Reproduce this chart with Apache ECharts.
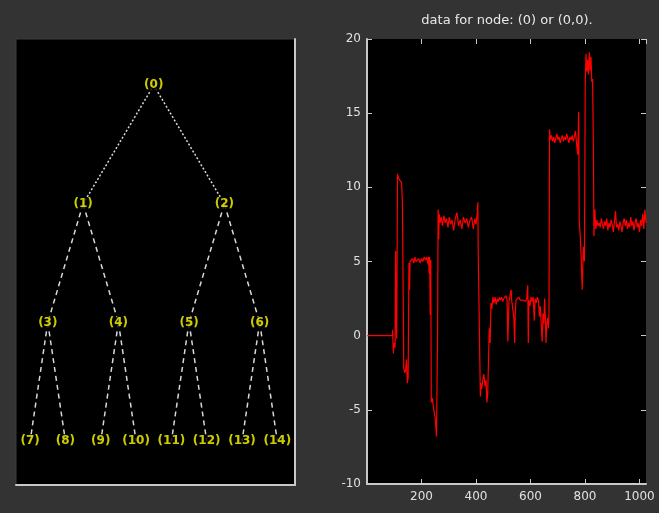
<!DOCTYPE html>
<html>
<head>
<meta charset="utf-8">
<script src="https://cdn.jsdelivr.net/npm/echarts@6/dist/echarts.min.js"></script>
<style>
html,body{margin:0;padding:0;background:#333333;}
#c{width:659px;height:513px;}
</style>
</head>
<body>
<div id="c"></div>
<script>
// ---- Tree (wavelet packet) ----
const nodeLabels = ['(0)','(1)','(2)','(3)','(4)','(5)','(6)','(7)','(8)','(9)','(10)','(11)','(12)','(13)','(14)'];
const nodeX = [4.5, 2.5, 6.5, 1.5, 3.5, 5.5, 7.5, 1, 2, 3, 4, 5, 6, 7, 8];
const nodeDepth = [0, 1, 1, 2, 2, 2, 2, 3, 3, 3, 3, 3, 3, 3, 3];
const nodeParent = [-1, 0, 0, 1, 1, 2, 2, 3, 3, 4, 4, 5, 5, 6, 6];

// ---- Signal: data for node (0) ----
const sigX = [1,93,94,95,97,99,103,105,107,109,112,116,119,123,127,130,133,135,139,142,145,148,151,154,156,158,162,167,172,176,180,185,190,195,200,205,210,215,220,224,226,228,230,232,234,236,240,245,250,255,259,261,263,265,268,272,277,282,287,292,297,302,307,312,318,324,330,336,342,348,354,360,366,372,378,384,390,396,400,404,407,408,414,416,418,421,425,429,433,437,440,443,446,449,452,455,458,462,466,470,474,478,482,486,490,494,498,502,506,510,514,517,519,521,525,529,531,535,539,542,544,547,552,557,562,567,572,577,582,586,590,592,594,598,602,606,610,614,617,621,625,629,633,636,640,643,646,649,652,655,657,660,663,666,668,670,673,677,681,685,689,693,697,701,705,709,713,717,721,725,729,733,737,741,745,749,753,757,761,765,769,773,775,777,779,783,786,790,794,798,801,804,807,810,813,816,819,822,825,828,831,833,836,840,844,848,852,856,860,864,868,872,876,880,884,888,892,896,900,904,908,912,916,920,924,928,932,936,940,944,948,952,956,960,964,968,972,976,980,984,988,992,996,1000,1004,1008,1012,1016,1020,1024];
const sigY = [0,0,0.4,-0.3,-1.2,-0.5,-0.8,5.7,1.0,-0.2,10.9,10.6,10.5,10.6,10.3,9.0,9.1,-2.2,-2.5,-2.3,-1.6,-3.2,-2.8,4.9,3.1,5.0,5.0,5.2,4.9,5.3,5.0,5.1,5.2,4.9,5.2,5.0,5.3,5.1,5.3,4.8,5.3,4.2,5.3,1.4,5.1,-4.5,-4.2,-5.0,-5.5,-6.8,0.0,8.5,6.5,8.2,7.6,8.0,7.4,8.1,7.6,7.9,7.3,8.0,7.5,7.8,7.1,7.9,8.3,7.4,7.8,7.2,8.0,7.6,7.9,7.3,7.8,8.0,7.2,7.9,7.5,8.1,9.0,6.0,-1.5,-4.1,-3.2,-3.6,-3.0,-2.6,-3.4,-3.0,-4.5,-3.9,-1.6,0.5,-0.5,2.2,1.8,2.6,2.2,2.6,2.1,2.5,2.3,2.6,2.4,2.6,2.3,2.5,2.4,2.7,2.4,-0.4,1.0,2.3,2.4,3.1,2.4,2.5,1.2,-0.5,1.5,2.4,2.4,2.6,2.4,2.5,2.4,2.5,2.3,2.5,3.4,-0.5,2.4,2.0,2.6,2.3,2.6,1.0,2.5,2.2,2.6,2.4,1.3,2.0,0.6,-0.4,1.5,0.8,2.5,1.0,-0.5,0.8,1.2,0.5,1.5,13.9,13.2,13.5,13.1,13.4,13.0,13.3,13.6,13.2,13.4,13.0,13.3,13.5,13.1,13.4,13.2,13.6,13.3,13.0,13.4,13.2,13.5,13.1,13.4,13.8,13.0,12.2,13.5,15.1,7.8,6.6,5.3,3.1,6.0,5.0,17.1,19.0,17.8,18.6,17.6,19.1,17.9,18.8,17.1,17.3,12.5,6.7,8.5,7.2,7.8,7.4,7.6,7.3,7.9,7.5,7.2,7.7,7.4,7.9,7.1,7.6,7.3,7.8,7.5,7.0,7.6,8.4,7.3,7.5,7.1,7.7,7.4,7.0,7.6,7.9,7.4,7.8,7.2,7.6,7.3,8.0,7.4,7.7,7.1,7.6,7.9,7.3,7.6,7.0,7.8,7.4,8.2,7.2,8.5,7.6];

const xTicks = [200, 400, 600, 800, 1000];
const yTicks = [-10, -5, 0, 5, 10, 15, 20];
const titleText = 'data for node: (0) or (0,0).';

const chart = echarts.init(document.getElementById('c'), null, {renderer: 'canvas'});

const nodeData = nodeLabels.map((lab, i) => ({value: [nodeX[i], -nodeDepth[i]], name: lab}));
const edges = [];
for (let i = 0; i < nodeLabels.length; i++) {
  const p = nodeParent[i];
  if (p < 0) continue;
  edges.push({
    coords: [[nodeX[p], -nodeDepth[p]], [nodeX[i], -nodeDepth[i]]],
    lineStyle: {type: nodeDepth[p] === 0 ? [2, 2] : [5, 4]}
  });
}
const sigData = sigX.map((x, i) => [x, sigY[i]]);

const axisGray = '#c8c8c8';
const labelFont = {color: '#e0e0e0', fontSize: 12, fontFamily: 'DejaVu Sans, sans-serif'};

chart.setOption({
  backgroundColor: '#333333',
  animation: false,
  title: {
    text: titleText,
    left: 502, top: 9, textAlign: 'center',
    textStyle: {color: '#e8e8e8', fontSize: 13, fontWeight: 'normal', fontFamily: 'DejaVu Sans, sans-serif'}
  },
  grid: [
    {left: 16, top: 39, width: 279, height: 446, show: true, backgroundColor: '#000000', borderColor: '#3c3c3c', borderWidth: 1},
    {left: 367, top: 39, width: 279, height: 445, show: true, backgroundColor: '#000000', borderWidth: 0}
  ],
  xAxis: [
    {gridIndex: 0, type: 'value', min: 0.6, max: 8.5, position: 'bottom',
     axisLine: {show: true, onZero: false, lineStyle: {color: axisGray, width: 2}},
     axisTick: {show: false}, axisLabel: {show: false}, splitLine: {show: false}},
    {gridIndex: 1, type: 'value', min: 0, max: 1024, interval: 200, position: 'bottom',
     axisLine: {show: true, onZero: false, lineStyle: {color: axisGray, width: 2}},
     axisTick: {show: true, inside: true, length: 5, lineStyle: {color: axisGray}},
     axisLabel: Object.assign({show: true, showMinLabel: false, showMaxLabel: false, margin: 7,
       formatter: v => (xTicks.indexOf(v) >= 0 ? String(v) : '')}, labelFont),
     splitLine: {show: false}},
    {gridIndex: 1, type: 'value', min: 0, max: 1024, interval: 200, position: 'top',
     axisLine: {show: false, onZero: false},
     axisTick: {show: true, inside: true, length: 5, lineStyle: {color: axisGray}},
     axisLabel: {show: false}, splitLine: {show: false}}
  ],
  yAxis: [
    {gridIndex: 0, type: 'value', min: -3.37, max: 0.39, position: 'right',
     axisLine: {show: true, onZero: false, lineStyle: {color: axisGray, width: 2}},
     axisTick: {show: false}, axisLabel: {show: false}, splitLine: {show: false}},
    {gridIndex: 1, type: 'value', min: -10, max: 20, interval: 5, position: 'left',
     axisLine: {show: true, onZero: false, lineStyle: {color: axisGray, width: 2}},
     axisTick: {show: true, inside: true, length: 5, lineStyle: {color: axisGray}},
     axisLabel: Object.assign({show: true, margin: 6,
       formatter: v => (yTicks.indexOf(v) >= 0 ? String(v) : '')}, labelFont),
     splitLine: {show: false}},
    {gridIndex: 1, type: 'value', min: -10, max: 20, interval: 5, position: 'right',
     axisLine: {show: false, onZero: false},
     axisTick: {show: true, inside: true, length: 5, lineStyle: {color: axisGray}},
     axisLabel: {show: false}, splitLine: {show: false}}
  ],
  series: [
    {
      type: 'lines', coordinateSystem: 'cartesian2d', xAxisIndex: 0, yAxisIndex: 0,
      data: edges, silent: true, z: 2,
      lineStyle: {color: '#d8d8d8', width: 1.5, opacity: 1}
    },
    {
      type: 'scatter', xAxisIndex: 0, yAxisIndex: 0, data: nodeData, symbolSize: 0, z: 5, silent: true,
      label: {show: true, position: 'inside', formatter: p => p.name, color: '#ffff00',
        fontSize: 12, fontWeight: 'bold', fontFamily: 'DejaVu Sans, sans-serif',
        backgroundColor: '#000000', padding: [0, 0]}
    },
    {
      type: 'line', xAxisIndex: 1, yAxisIndex: 1, data: sigData, showSymbol: false, symbol: 'none',
      lineStyle: {color: '#ff0000', width: 1.2}, z: 3, silent: true
    }
  ]
});
</script>
</body>
</html>
